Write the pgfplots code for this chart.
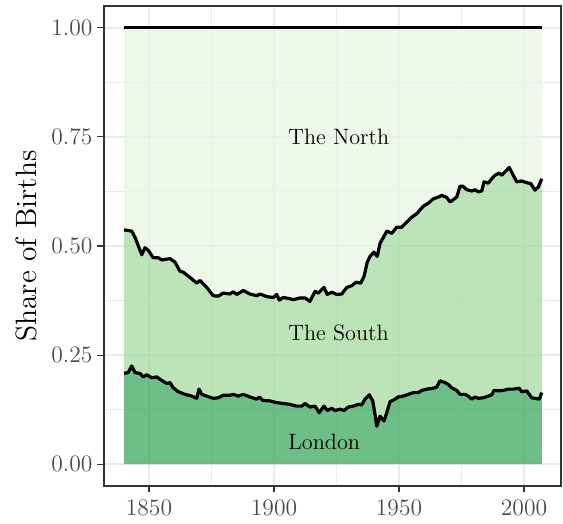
\documentclass[border=0pt]{standalone}
\usepackage{pgfplots}
\pgfplotsset{compat=1.18}
\usepgfplotslibrary{fillbetween}
\definecolor{gNorth}{HTML}{E5F5E0}
\definecolor{gSouth}{HTML}{A1D99B}
\definecolor{gLondon}{HTML}{31A354}
\definecolor{grid92}{gray}{0.92}
\definecolor{grey20}{gray}{0.2}
\definecolor{grey30}{gray}{0.3}
\begin{document}
\begin{tikzpicture}
\begin{axis}[
  at={(0,0)}, anchor=south west,
  scale only axis, width=228.5pt, height=240pt,
  xmin=1832, xmax=2014.8, ymin=-0.05, ymax=1.05,
  xtick={1850,1900,1950,2000}, minor xtick={1875,1925,1975},
  xticklabels={1850,1900,1950,2000},
  ytick={0,0.25,0.5,0.75,1}, minor ytick={0.125,0.375,0.625,0.875},
  yticklabels={0.00,0.25,0.50,0.75,1.00},
  grid=both,
  major grid style={grid92, line width=0.75pt},
  minor grid style={grid92, line width=0.4pt},
  axis line style={grey20, line width=0.65pt},
  tick style={grey20, line width=0.55pt},
  major tick length=3.25pt, minor tick length=0pt,
  tick align=outside, xtick pos=bottom, ytick pos=left,
  ticklabel style={font=\fontsize{11.8}{14}\selectfont, text=grey30},
  xticklabel shift=0.15pt, yticklabel shift=-1pt,
  ylabel={Share of Births},
  ylabel style={font=\fontsize{14.7}{17}\selectfont, at={(axis description cs:-0.169,0.5)}, anchor=center},
]
\addplot[name path=top, draw=none, forget plot] coordinates {(1840,1) (2007.1,1)};
\addplot[name path=base, draw=none, forget plot] coordinates {(1840,0) (2007.1,0)};
\addplot[name path=S, draw=none, forget plot] coordinates {
(1840.0,0.537) (1843.1,0.534) (1844.4,0.520) (1847.1,0.480) (1848.4,0.496) (1849.7,0.490)
(1851.7,0.473) (1853.7,0.473) (1855.1,0.468) (1858.4,0.471) (1860.4,0.463) (1862.4,0.442)
(1863.7,0.440) (1866.4,0.428) (1869.1,0.415) (1870.4,0.421) (1873.1,0.405) (1875.7,0.386)
(1877.7,0.385) (1879.7,0.392) (1882.4,0.390) (1883.7,0.395) (1885.1,0.389) (1887.7,0.398)
(1890.4,0.390) (1893.1,0.386) (1894.4,0.390) (1897.1,0.384) (1899.7,0.382) (1901.1,0.389)
(1902.1,0.376) (1903.7,0.382) (1905.7,0.380) (1907.7,0.377) (1910.4,0.381) (1912.4,0.381)
(1914.4,0.373) (1916.4,0.396) (1917.7,0.392) (1920.0,0.405) (1921.3,0.389) (1923.1,0.394)
(1925.1,0.389) (1927.1,0.390) (1929.1,0.405) (1931.1,0.409) (1932.8,0.417) (1934.7,0.415)
(1936.0,0.430) (1937.3,0.463) (1938.4,0.476) (1940.0,0.486) (1941.3,0.476) (1942.4,0.506)
(1943.7,0.519) (1945.1,0.534) (1947.1,0.529) (1949.1,0.543) (1951.1,0.543) (1953.1,0.555)
(1955.1,0.566) (1957.1,0.574) (1959.7,0.591) (1961.7,0.598) (1963.7,0.608) (1965.7,0.612)
(1967.1,0.616) (1969.1,0.611) (1970.4,0.601) (1971.7,0.606) (1973.1,0.612) (1974.4,0.637)
(1975.5,0.637) (1977.1,0.629) (1979.1,0.626) (1980.4,0.629) (1981.7,0.624) (1983.1,0.626)
(1984.0,0.647) (1985.7,0.644) (1987.1,0.654) (1988.4,0.662) (1990.1,0.667) (1991.1,0.662)
(1992.4,0.670) (1994.1,0.680) (1995.7,0.662) (1997.1,0.647) (1999.1,0.649) (2001.1,0.645)
(2002.7,0.643) (2004.4,0.628) (2005.7,0.635) (2007.1,0.654)};
\addplot[name path=L, draw=none, forget plot] coordinates {
(1840.0,0.208) (1841.7,0.210) (1843.1,0.225) (1844.4,0.210) (1846.4,0.208) (1847.7,0.200)
(1849.1,0.205) (1851.1,0.198) (1853.1,0.200) (1855.1,0.192) (1857.1,0.185) (1858.4,0.187)
(1859.7,0.175) (1861.7,0.166) (1864.4,0.160) (1867.1,0.156) (1869.1,0.151) (1870.0,0.172)
(1871.1,0.160) (1873.1,0.156) (1875.7,0.151) (1877.7,0.152) (1879.7,0.158) (1882.4,0.158)
(1883.7,0.160) (1885.7,0.156) (1887.7,0.160) (1890.4,0.154) (1893.1,0.149) (1894.1,0.154)
(1895.5,0.146) (1898.4,0.145) (1901.1,0.141) (1903.7,0.139) (1906.4,0.137) (1909.1,0.133)
(1911.1,0.133) (1912.4,0.139) (1914.4,0.131) (1916.4,0.133) (1918.1,0.118) (1920.0,0.133)
(1921.3,0.123) (1923.1,0.128) (1924.4,0.123) (1926.4,0.126) (1928.0,0.123) (1929.7,0.131)
(1931.7,0.133) (1933.7,0.137) (1935.1,0.136) (1936.4,0.149) (1938.1,0.159) (1939.5,0.145)
(1940.4,0.114) (1941.1,0.087) (1942.4,0.110) (1944.0,0.099) (1945.1,0.118) (1946.4,0.143)
(1948.4,0.149) (1949.7,0.154) (1951.7,0.156) (1953.7,0.160) (1955.7,0.164) (1957.7,0.164)
(1959.1,0.169) (1961.1,0.172) (1963.7,0.174) (1965.1,0.177) (1966.4,0.191) (1968.4,0.187)
(1969.7,0.183) (1971.1,0.175) (1973.1,0.169) (1974.4,0.160) (1976.4,0.160) (1977.7,0.156)
(1979.1,0.149) (1980.4,0.154) (1981.7,0.151) (1983.7,0.152) (1985.7,0.156) (1987.1,0.159)
(1988.0,0.169) (1989.7,0.168) (1991.7,0.169) (1993.7,0.172) (1995.7,0.172) (1998.1,0.174)
(1999.1,0.166) (2001.1,0.168) (2003.1,0.152) (2004.4,0.151) (2006.1,0.149) (2007.1,0.164)};
\addplot[fill=gNorth, fill opacity=0.7, draw=none] fill between[of=top and S];
\addplot[fill=gSouth, fill opacity=0.7, draw=none] fill between[of=S and L];
\addplot[fill=gLondon, fill opacity=0.7, draw=none] fill between[of=L and base];
\addplot[black, line width=1.6pt, line join=round] coordinates {(1840,1) (2007.1,1)};
\addplot[black, line width=1.6pt, line join=round] coordinates {
(1840.0,0.537) (1843.1,0.534) (1844.4,0.520) (1847.1,0.480) (1848.4,0.496) (1849.7,0.490)
(1851.7,0.473) (1853.7,0.473) (1855.1,0.468) (1858.4,0.471) (1860.4,0.463) (1862.4,0.442)
(1863.7,0.440) (1866.4,0.428) (1869.1,0.415) (1870.4,0.421) (1873.1,0.405) (1875.7,0.386)
(1877.7,0.385) (1879.7,0.392) (1882.4,0.390) (1883.7,0.395) (1885.1,0.389) (1887.7,0.398)
(1890.4,0.390) (1893.1,0.386) (1894.4,0.390) (1897.1,0.384) (1899.7,0.382) (1901.1,0.389)
(1902.1,0.376) (1903.7,0.382) (1905.7,0.380) (1907.7,0.377) (1910.4,0.381) (1912.4,0.381)
(1914.4,0.373) (1916.4,0.396) (1917.7,0.392) (1920.0,0.405) (1921.3,0.389) (1923.1,0.394)
(1925.1,0.389) (1927.1,0.390) (1929.1,0.405) (1931.1,0.409) (1932.8,0.417) (1934.7,0.415)
(1936.0,0.430) (1937.3,0.463) (1938.4,0.476) (1940.0,0.486) (1941.3,0.476) (1942.4,0.506)
(1943.7,0.519) (1945.1,0.534) (1947.1,0.529) (1949.1,0.543) (1951.1,0.543) (1953.1,0.555)
(1955.1,0.566) (1957.1,0.574) (1959.7,0.591) (1961.7,0.598) (1963.7,0.608) (1965.7,0.612)
(1967.1,0.616) (1969.1,0.611) (1970.4,0.601) (1971.7,0.606) (1973.1,0.612) (1974.4,0.637)
(1975.5,0.637) (1977.1,0.629) (1979.1,0.626) (1980.4,0.629) (1981.7,0.624) (1983.1,0.626)
(1984.0,0.647) (1985.7,0.644) (1987.1,0.654) (1988.4,0.662) (1990.1,0.667) (1991.1,0.662)
(1992.4,0.670) (1994.1,0.680) (1995.7,0.662) (1997.1,0.647) (1999.1,0.649) (2001.1,0.645)
(2002.7,0.643) (2004.4,0.628) (2005.7,0.635) (2007.1,0.654)};
\addplot[black, line width=1.6pt, line join=round] coordinates {
(1840.0,0.208) (1841.7,0.210) (1843.1,0.225) (1844.4,0.210) (1846.4,0.208) (1847.7,0.200)
(1849.1,0.205) (1851.1,0.198) (1853.1,0.200) (1855.1,0.192) (1857.1,0.185) (1858.4,0.187)
(1859.7,0.175) (1861.7,0.166) (1864.4,0.160) (1867.1,0.156) (1869.1,0.151) (1870.0,0.172)
(1871.1,0.160) (1873.1,0.156) (1875.7,0.151) (1877.7,0.152) (1879.7,0.158) (1882.4,0.158)
(1883.7,0.160) (1885.7,0.156) (1887.7,0.160) (1890.4,0.154) (1893.1,0.149) (1894.1,0.154)
(1895.5,0.146) (1898.4,0.145) (1901.1,0.141) (1903.7,0.139) (1906.4,0.137) (1909.1,0.133)
(1911.1,0.133) (1912.4,0.139) (1914.4,0.131) (1916.4,0.133) (1918.1,0.118) (1920.0,0.133)
(1921.3,0.123) (1923.1,0.128) (1924.4,0.123) (1926.4,0.126) (1928.0,0.123) (1929.7,0.131)
(1931.7,0.133) (1933.7,0.137) (1935.1,0.136) (1936.4,0.149) (1938.1,0.159) (1939.5,0.145)
(1940.4,0.114) (1941.1,0.087) (1942.4,0.110) (1944.0,0.099) (1945.1,0.118) (1946.4,0.143)
(1948.4,0.149) (1949.7,0.154) (1951.7,0.156) (1953.7,0.160) (1955.7,0.164) (1957.7,0.164)
(1959.1,0.169) (1961.1,0.172) (1963.7,0.174) (1965.1,0.177) (1966.4,0.191) (1968.4,0.187)
(1969.7,0.183) (1971.1,0.175) (1973.1,0.169) (1974.4,0.160) (1976.4,0.160) (1977.7,0.156)
(1979.1,0.149) (1980.4,0.154) (1981.7,0.151) (1983.7,0.152) (1985.7,0.156) (1987.1,0.159)
(1988.0,0.169) (1989.7,0.168) (1991.7,0.169) (1993.7,0.172) (1995.7,0.172) (1998.1,0.174)
(1999.1,0.166) (2001.1,0.168) (2003.1,0.152) (2004.4,0.151) (2006.1,0.149) (2007.1,0.164)};
\node[anchor=west, inner sep=0pt, font=\fontsize{11.1}{13}\selectfont] at (axis cs:1905.6,0.75) {The North};
\node[anchor=west, inner sep=0pt, font=\fontsize{11.1}{13}\selectfont] at (axis cs:1905.6,0.30) {The South};
\node[anchor=west, inner sep=0pt, font=\fontsize{11.1}{13}\selectfont] at (axis cs:1905.6,0.05) {London};
\end{axis}
\pgfresetboundingbox
\path[use as bounding box] (-52pt,-19pt) rectangle (229.5pt,243pt);
\end{tikzpicture}
\end{document}
